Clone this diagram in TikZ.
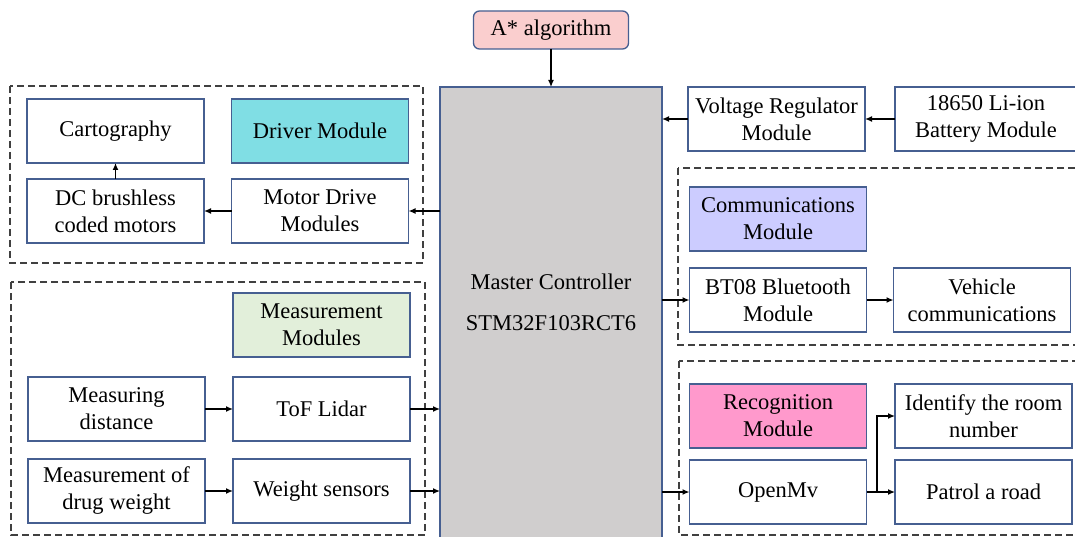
\documentclass[tikz,border=0pt]{standalone}
\usepackage{fontspec}
\setmainfont{Liberation Serif}
\usetikzlibrary{arrows.meta}
\definecolor{bord}{RGB}{70,95,145}
\definecolor{cyanfill}{RGB}{128,222,228}
\definecolor{greenfill}{RGB}{226,239,218}
\definecolor{lavfill}{RGB}{204,204,255}
\definecolor{pinkfill}{RGB}{255,153,204}
\definecolor{astarfill}{RGB}{250,206,206}
\definecolor{mastfill}{RGB}{208,206,206}
\begin{document}
\begin{tikzpicture}[x=1pt,y=-1pt,
 box/.style={draw=bord, line width=1.3pt, fill=white, minimum width=177pt, minimum height=64pt, inner sep=0pt, outer sep=0pt, align=center, font=\fontsize{22.5}{27}\selectfont},
 grp/.style={draw=black!75, line width=1.3pt, dash pattern=on 7pt off 4pt},
 arr/.style={-{Latex[length=7pt,width=6pt]}, line width=1.3pt}]
\clip (0,0) rectangle (1075,537);
\fill[white] (0,0) rectangle (1075,537);
% groups
\draw[grp] (10,86) rectangle (423,263);
\draw[grp] (11,282) rectangle (425,535);
\draw[grp] (678,168) rectangle (1090,345);
\draw[grp] (679,361) rectangle (1090,535);
% master
\node[box, fill=mastfill, minimum width=222pt, minimum height=473pt] (master) at (551,323.5) {};
\node[align=center, font=\fontsize{22.5}{41}\selectfont, inner sep=0pt] (mtext) at (551,302) {Master Controller\\STM32F103RCT6};
\node[box, fill=astarfill, minimum width=155pt, minimum height=38pt, rounded corners=6pt] (astar) at (551,30) {A* algorithm};
% left top
\node[box] (carto) at (115.5,131) {Cartography};
\node[box, fill=cyanfill] (driver) at (320,131) {Driver Module};
\node[box] (dc) at (115.5,211) {DC brushless\\coded motors};
\node[box] (mdm) at (320,211) {Motor Drive\\Modules};
% left bottom
\node[box, fill=greenfill] (meas) at (321.5,325) {Measurement\\Modules};
\node[box] (mdist) at (116.5,409) {Measuring\\distance};
\node[box] (tof) at (321.5,409) {ToF Lidar};
\node[box] (mdw) at (116.5,491) {Measurement of\\drug weight};
\node[box] (ws) at (321.5,491) {Weight sensors};
% right top
\node[box] (vr) at (776.5,119) {Voltage Regulator\\Module};
\node[box, minimum width=182pt] (bat) at (986,119) {18650 Li-ion\\Battery Module};
% communications
\node[box, fill=lavfill] (comm) at (778,219) {Communications\\Module};
\node[box] (bt) at (778,300) {BT08 Bluetooth\\Module};
\node[box] (veh) at (982,300) {Vehicle\\communications};
% recognition
\node[box, fill=pinkfill] (recog) at (778,416) {Recognition\\Module};
\node[box] (ident) at (983.5,416) {Identify the room\\number};
\node[box] (openmv) at (778,492) {OpenMv};
\node[box] (patrol) at (983.5,492) {Patrol a road};
\coordinate (br) at (877,492);
% arrows
\draw[arr] (astar.south) -- (master.north);
\draw[arr] (master.west |- mdm.east) -- (mdm.east);
\draw[arr] (mdm.west) -- (dc.east);
\draw[arr] (dc.north) -- (carto.south);
\draw[arr] (mdist.east) -- (tof.west);
\draw[arr] (tof.east) -- (master.west |- tof.east);
\draw[arr] (mdw.east) -- (ws.west);
\draw[arr] (ws.east) -- (master.west |- ws.east);
\draw[arr] (bat.west) -- (vr.east);
\draw[arr] (vr.west) -- (master.east |- vr.west);
\draw[arr] (master.east |- bt.west) -- (bt.west);
\draw[arr] (bt.east) -- (veh.west);
\draw[arr] (master.east |- openmv.west) -- (openmv.west);
\draw[arr] (openmv.east) -- (patrol.west);
\draw[arr] (br) |- (ident.west);
\end{tikzpicture}
\end{document}
